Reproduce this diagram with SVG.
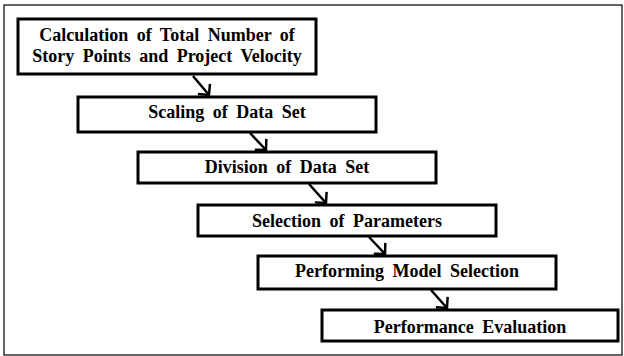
<svg xmlns="http://www.w3.org/2000/svg" width="624" height="356" viewBox="0 0 624 356">
<style>
.frame{fill:none;stroke:#000;stroke-width:1.2}
.box{fill:#fff;stroke:#000;stroke-width:3}
.lbl{font-family:"Liberation Serif","Times New Roman",serif;font-weight:bold;font-size:18px;word-spacing:4px;fill:#000;text-anchor:middle}
.conn{stroke:#000;stroke-width:2.5;fill:none;marker-end:url(#ah)}
</style>
<defs>
<marker id="ah" viewBox="-1 -4 12 18" refX="9" refY="5" markerWidth="5.4" markerHeight="8.1" orient="auto" markerUnits="strokeWidth">
<path d="M2,-2 L9,5 L2,12" fill="none" stroke="#000" stroke-width="2.2"/>
</marker>
</defs>
<rect class="frame" x="4" y="5" width="618" height="350"/>
<g id="connectors">
<line class="conn" x1="193" y1="76" x2="209" y2="95"/>
<line class="conn" x1="250" y1="133" x2="266" y2="150"/>
<line class="conn" x1="309" y1="184" x2="326" y2="203"/>
<line class="conn" x1="369" y1="237" x2="385" y2="254"/>
<line class="conn" x1="431" y1="290" x2="447" y2="308"/>
</g>
<g id="n1"><rect class="box" x="18" y="19" width="298" height="55"/>
<text class="lbl" x="167" y="41">Calculation of Total Number of</text>
<text class="lbl" x="167" y="62">Story Points and Project Velocity</text></g>
<g id="n2"><rect class="box" x="78" y="97" width="298" height="35"/>
<text class="lbl" x="227" y="118">Scaling of Data Set</text></g>
<g id="n3"><rect class="box" x="138" y="152" width="298" height="31"/>
<text class="lbl" x="287" y="173">Division of Data Set</text></g>
<g id="n4"><rect class="box" x="198" y="205" width="298" height="31"/>
<text class="lbl" x="347" y="226.5">Selection of Parameters</text></g>
<g id="n5"><rect class="box" x="258" y="256" width="298" height="33"/>
<text class="lbl" x="407" y="277">Performing Model Selection</text></g>
<g id="n6"><rect class="box" x="322" y="310" width="296" height="31"/>
<text class="lbl" x="470" y="332.5">Performance Evaluation</text></g>
</svg>
